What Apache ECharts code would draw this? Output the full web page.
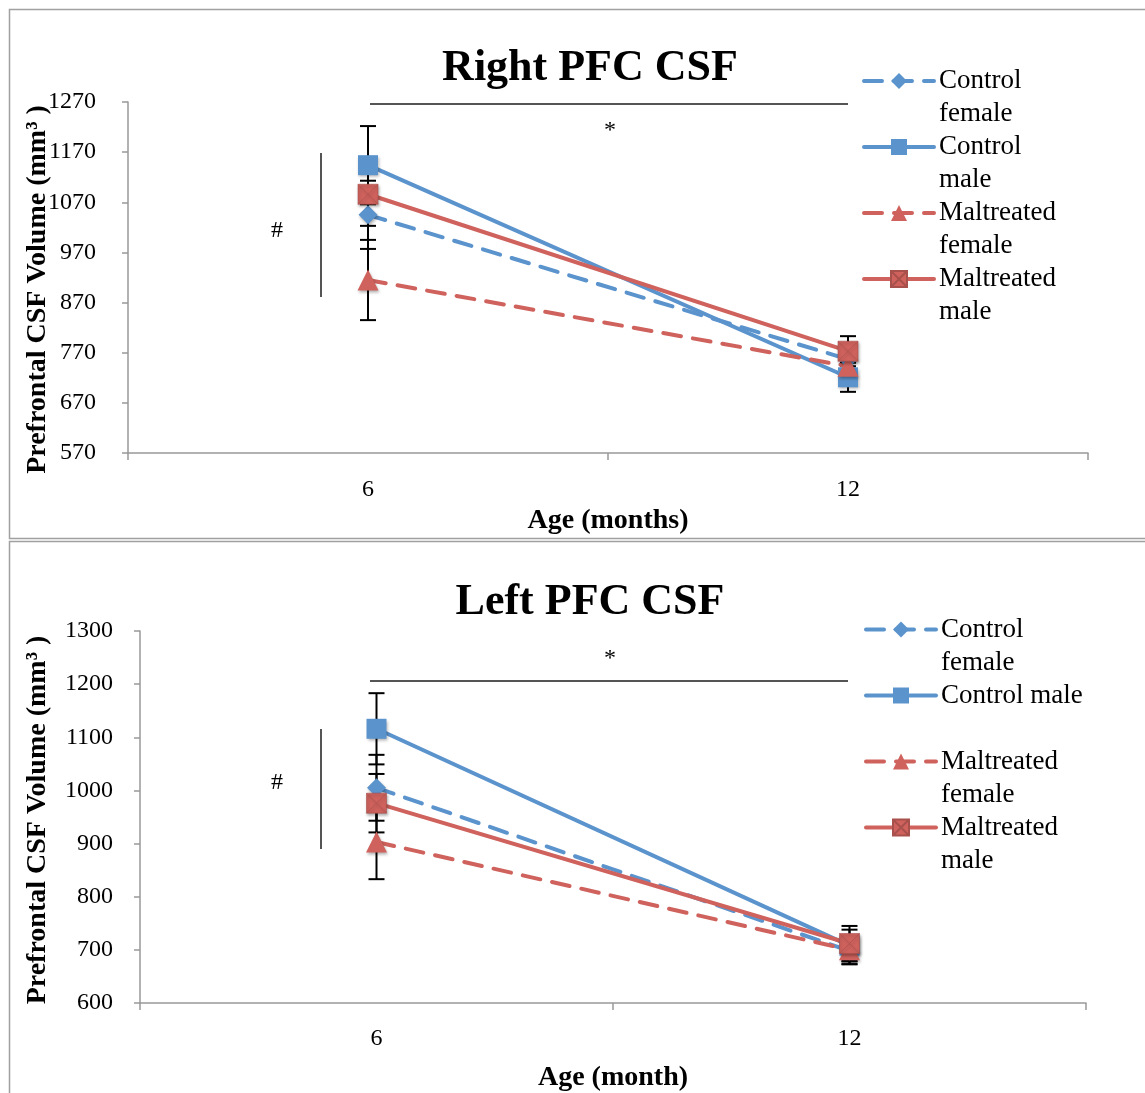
<!DOCTYPE html>
<html>
<head>
<meta charset="utf-8">
<script src="https://cdn.jsdelivr.net/npm/echarts@6/dist/echarts.min.js"></script>
<style>
html,body{margin:0;padding:0;background:#fff;}
#chart{width:1145px;height:1093px;}
</style>
</head>
<body>
<div id="chart"></div>
<script>
// ---- data ----
const ages = ['6', '12'];
const seriesNames = ['Control female', 'Control male', 'Maltreated female', 'Maltreated male'];

// Right PFC CSF (top)
const rightControlFemale = [1045, 757];
const rightControlMale = [1144, 721];
const rightMaltreatedFemale = [915, 743];
const rightMaltreatedMale = [1086, 773];
const rightControlFemaleErr = [68, 30];
const rightControlMaleErr = [78, 29];
const rightMaltreatedFemaleErr = [80, 30];
const rightMaltreatedMaleErr = [63, 30];
const rightYTicks = [570, 1270, 100];

// Left PFC CSF (bottom)
const leftControlFemale = [1005, 698];
const leftControlMale = [1116, 708];
const leftMaltreatedFemale = [903, 700];
const leftMaltreatedMale = [976, 712];
const leftControlFemaleErr = [62, 25];
const leftControlMaleErr = [67, 30];
const leftMaltreatedFemaleErr = [70, 27];
const leftMaltreatedMaleErr = [55, 33];
const leftYTicks = [600, 1300, 100];

// ---- styling ----
const BLUE = '#5b93cd';
const RED = '#cf625d';
const FONT = 'Liberation Serif';
const styles = [
  {color: BLUE, type: [18, 12], symbol: 'diamond', size: 19},
  {color: BLUE, type: 'solid', symbol: 'rect', size: 20},
  {color: RED, type: [18, 12], symbol: 'triangle', size: 21},
  {color: RED, type: 'solid', symbol: 'path://M0,0L10,0L10,10L0,10ZM0,0L10,10M10,0L0,10', size: 20}
];

function errData(means, errs) {
  return means.map((m, i) => [i, m - errs[i], m + errs[i]]);
}

function errorSeries(gi, means, errs) {
  return {
    type: 'custom', xAxisIndex: gi, yAxisIndex: gi, z: 1, silent: true,
    data: errData(means, errs),
    renderItem: function (params, api) {
      const x = api.value(0);
      const lo = api.coord([x, api.value(1)]);
      const hi = api.coord([x, api.value(2)]);
      const hw = 8;
      const st = {stroke: '#000', lineWidth: 2};
      return {type: 'group', children: [
        {type: 'line', shape: {x1: lo[0], y1: lo[1], x2: hi[0], y2: hi[1]}, style: st},
        {type: 'line', shape: {x1: lo[0] - hw, y1: lo[1], x2: lo[0] + hw, y2: lo[1]}, style: st},
        {type: 'line', shape: {x1: hi[0] - hw, y1: hi[1], x2: hi[0] + hw, y2: hi[1]}, style: st}
      ]};
    }
  };
}

function lineSeries(gi, idx, values) {
  const s = styles[idx];
  return {
    name: seriesNames[idx], type: 'line', xAxisIndex: gi, yAxisIndex: gi, z: 3,
    data: values, symbol: s.symbol, symbolSize: s.size, showSymbol: true,
    lineStyle: {color: s.color, width: 4, type: s.type, cap: 'round'},
    itemStyle: {color: s.color, borderColor: idx === 3 ? '#a8504b' : s.color, borderWidth: idx === 3 ? 0.6 : 0,
      shadowBlur: 3, shadowColor: 'rgba(0,0,0,0.3)', shadowOffsetX: 1, shadowOffsetY: 2},
    emphasis: {disabled: true}, animation: false
  };
}

function yAxis(gi, ticks, nameGap, labelMargin, namePad) {
  return {
    gridIndex: gi, type: 'value', min: ticks[0], max: ticks[1], interval: ticks[2],
    name: 'Prefrontal CSF Volume (mm³ )', nameLocation: 'middle', nameGap: nameGap,
    nameMoveOverlap: false,
    nameTextStyle: {fontFamily: FONT, fontWeight: 'bold', fontSize: 28, color: '#000', padding: namePad},
    axisLine: {show: true, lineStyle: {color: '#999', width: 1.5}},
    axisTick: {show: true, length: 6, lineStyle: {color: '#999', width: 1.5}},
    axisLabel: {fontFamily: FONT, fontSize: 24, color: '#000', margin: labelMargin,
      formatter: function (v) { return String(v); }},
    splitLine: {show: false}
  };
}

function xAxis(gi, name, nameGap, labelMargin) {
  return {
    gridIndex: gi, type: 'category', data: ages, boundaryGap: true,
    name: name, nameLocation: 'middle', nameGap: nameGap, nameMoveOverlap: false,
    nameTextStyle: {fontFamily: FONT, fontWeight: 'bold', fontSize: 28, color: '#000'},
    axisLine: {show: true, lineStyle: {color: '#999', width: 1.5}},
    axisTick: {show: true, length: 7, alignWithLabel: false, lineStyle: {color: '#999', width: 1.5}},
    axisLabel: {fontFamily: FONT, fontSize: 24, color: '#000', margin: labelMargin},
    splitLine: {show: false}
  };
}

function legend(left, top, labels) {
  return {
    orient: 'vertical', left: left, top: top, itemWidth: 70, itemHeight: 20, itemGap: -33,
    data: seriesNames, selectedMode: false,
    lineStyle: {width: 4},
    formatter: function (n) { return ' \n' + labels[seriesNames.indexOf(n)]; },
    textStyle: {fontFamily: FONT, fontSize: 27, color: '#000', lineHeight: 33}
  };
}

const chart = echarts.init(document.getElementById('chart'), null, {renderer: 'canvas'});
chart.setOption({
  animation: false,
  backgroundColor: '#fff',
  title: [
    {text: 'Right PFC CSF', left: 585, top: 42, textAlign: 'center',
     textStyle: {fontFamily: FONT, fontWeight: 'bold', fontSize: 44, color: '#000'}},
    {text: 'Left PFC CSF', left: 585, top: 576, textAlign: 'center',
     textStyle: {fontFamily: FONT, fontWeight: 'bold', fontSize: 44, color: '#000'}}
  ],
  legend: [
    legend(857, 26.5, ['Control\nfemale', 'Control\nmale', 'Maltreated\nfemale', 'Maltreated\nmale']),
    legend(859, 575, ['Control\nfemale', 'Control male\n ', 'Maltreated\nfemale', 'Maltreated\nmale'])
  ],
  grid: [
    {left: 128, right: 57, top: 102, height: 351},
    {left: 140, right: 59, top: 631, height: 372}
  ],
  xAxis: [xAxis(0, 'Age (months)', 54, 25), xAxis(1, 'Age (month)', 61, 24)],
  yAxis: [yAxis(0, rightYTicks, 76, 32, [0, 24, 0, 0]), yAxis(1, leftYTicks, 88, 27, [0, 6, 0, 0])],
  series: [
    errorSeries(0, rightControlFemale, rightControlFemaleErr),
    errorSeries(0, rightControlMale, rightControlMaleErr),
    errorSeries(0, rightMaltreatedFemale, rightMaltreatedFemaleErr),
    errorSeries(0, rightMaltreatedMale, rightMaltreatedMaleErr),
    lineSeries(0, 0, rightControlFemale),
    lineSeries(0, 1, rightControlMale),
    lineSeries(0, 2, rightMaltreatedFemale),
    lineSeries(0, 3, rightMaltreatedMale),
    errorSeries(1, leftControlFemale, leftControlFemaleErr),
    errorSeries(1, leftControlMale, leftControlMaleErr),
    errorSeries(1, leftMaltreatedFemale, leftMaltreatedFemaleErr),
    errorSeries(1, leftMaltreatedMale, leftMaltreatedMaleErr),
    lineSeries(1, 0, leftControlFemale),
    lineSeries(1, 1, leftControlMale),
    lineSeries(1, 2, leftMaltreatedFemale),
    lineSeries(1, 3, leftMaltreatedMale)
  ],
  graphic: [
    {type: 'rect', shape: {x: 9.5, y: 9.5, width: 1160, height: 529}, style: {fill: 'none', stroke: '#a0a0a0', lineWidth: 1.5}, z: -1},
    {type: 'rect', shape: {x: 9.5, y: 541.5, width: 1160, height: 600}, style: {fill: 'none', stroke: '#a0a0a0', lineWidth: 1.5}, z: -1},
    {type: 'line', shape: {x1: 370, y1: 104, x2: 848, y2: 104}, style: {stroke: '#555', lineWidth: 2}},
    {type: 'text', x: 610, y: 131, style: {text: '*', font: '24px "Liberation Serif"', fill: '#000', align: 'center', verticalAlign: 'middle'}},
    {type: 'line', shape: {x1: 321, y1: 153, x2: 321, y2: 297}, style: {stroke: '#555', lineWidth: 2}},
    {type: 'text', x: 277, y: 231, style: {text: '#', font: '24px "Liberation Serif"', fill: '#000', align: 'center', verticalAlign: 'middle'}},
    {type: 'line', shape: {x1: 370, y1: 681, x2: 848, y2: 681}, style: {stroke: '#555', lineWidth: 2}},
    {type: 'text', x: 610, y: 659, style: {text: '*', font: '24px "Liberation Serif"', fill: '#000', align: 'center', verticalAlign: 'middle'}},
    {type: 'line', shape: {x1: 321, y1: 729, x2: 321, y2: 849}, style: {stroke: '#555', lineWidth: 2}},
    {type: 'text', x: 277, y: 783, style: {text: '#', font: '24px "Liberation Serif"', fill: '#000', align: 'center', verticalAlign: 'middle'}}
  ]
});
</script>
</body>
</html>
